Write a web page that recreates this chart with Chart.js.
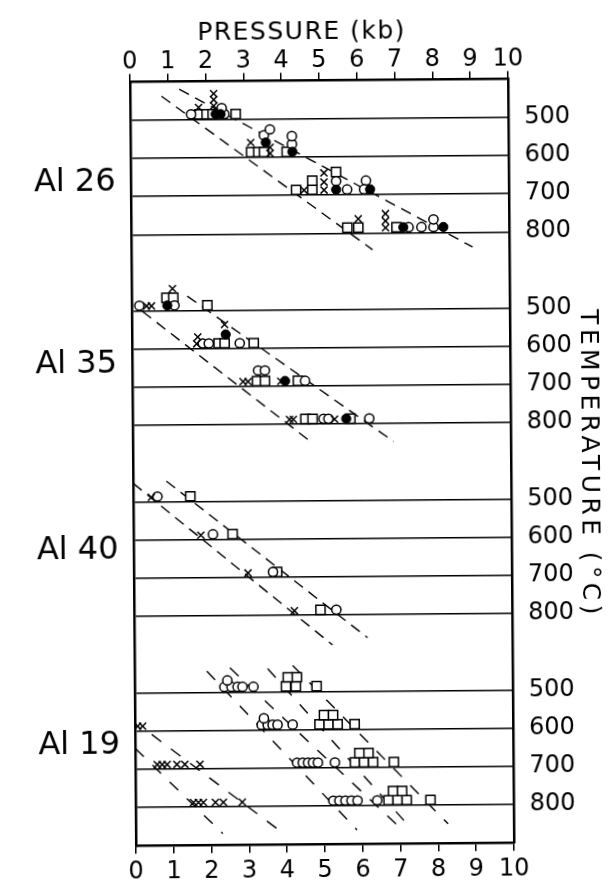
<!DOCTYPE html>
<html>
<head>
<meta charset="utf-8">
<script src="https://cdn.jsdelivr.net/npm/chart.js@4.4.0/dist/chart.umd.min.js"></script>
<style>
  html, body { margin: 0; padding: 0; background: #fff; }
  #wrap { width: 609px; height: 880px; overflow: hidden; }
  /* the scanned figure is turned a little anticlockwise */
  #chart { display: block; transform: rotate(-0.45deg); transform-origin: 322px 462px; }
</style>
</head>
<body>
<div id="wrap"><canvas id="chart" width="609" height="880"></canvas></div>
<script>
// Axes
const pressureMin = 0;
const pressureMax = 10;
const tempLevels = [500, 600, 700, 800];
const samples = ['Al 26', 'Al 35', 'Al 40', 'Al 19'];

// Runs: [pressure (kb), temperature (°C) as plotted, stacked runs sit higher]
const al26Open = [[1.61, 486], [2.49, 486], [2.42, 470], [3.53, 542], [3.69, 527], [4.27, 566], [4.27, 545],
  [5.43, 664], [5.72, 686], [6.22, 663], [6.17, 686], [7.34, 786], [7.68, 786], [8.00, 786], [8.00, 766]];
const al26Filled = [[2.26, 486], [2.39, 486], [3.58, 561], [4.28, 586], [5.43, 686], [6.33, 686], [7.20, 786], [8.26, 786]];
const al26Cross = [[1.81, 468], [2.21, 464], [2.21, 448], [2.21, 432], [3.18, 561], [3.69, 574], [3.69, 590],
  [4.58, 687], [5.11, 687], [5.11, 666], [5.11, 642], [6.01, 763], [6.73, 787], [6.73, 769], [6.73, 750]];
const al26Square = [[1.83, 486], [2.02, 486], [2.18, 486], [2.79, 486], [3.19, 586], [3.38, 586], [3.53, 586], [4.13, 586],
  [4.37, 686], [4.80, 686], [4.80, 662], [5.43, 640], [5.72, 786], [6.01, 786], [7.02, 786]];
const al26Dashed = [[0.83, 438, 6.38, 844], [1.30, 420, 9.03, 839]];

const al35Open = [[0.20, 486], [1.13, 486], [1.87, 586], [2.03, 586], [2.85, 586], [3.33, 658], [3.51, 658],
  [4.57, 686], [5.05, 786], [5.18, 786], [6.26, 786]];
const al35Filled = [[0.94, 486], [2.48, 563], [4.04, 686], [5.65, 786]];
const al35Cross = [[0.39, 487], [0.52, 487], [1.08, 442], [1.74, 569], [1.71, 587], [2.45, 537], [2.93, 687],
  [3.06, 687], [3.93, 687], [4.15, 787], [4.25, 787], [5.34, 787]];
const al35Square = [[0.92, 466], [1.10, 466], [2.00, 486], [2.29, 586], [2.45, 586], [3.22, 586], [3.30, 686],
  [3.51, 686], [4.38, 686], [4.57, 786], [4.76, 786], [5.76, 786]];
const al35Dashed = [[0.28, 501, 4.75, 849], [1.47, 462, 6.90, 847]];

const al40Open = [[0.64, 486], [2.10, 586], [3.68, 686], [5.35, 786]];
const al40Filled = [];
const al40Cross = [[0.48, 488], [1.78, 588], [3.02, 688], [4.24, 788]];
const al40Square = [[1.51, 486], [2.62, 586], [3.79, 686], [4.93, 786]];
const al40Dashed = [[0.00, 451, 5.24, 878], [0.88, 446, 6.17, 860]];

const al19Open = [[2.37, 486], [2.56, 486], [2.72, 486], [2.85, 486], [2.45, 469], [3.14, 486],
  [3.35, 586], [3.51, 586], [3.64, 586], [3.77, 586], [3.41, 569], [4.17, 586],
  [4.28, 686], [4.43, 686], [4.57, 686], [4.70, 686], [4.83, 686], [5.28, 686],
  [5.23, 786], [5.39, 786], [5.55, 786], [5.71, 786], [5.87, 786], [6.39, 786]];
const al19Filled = [];
const al19Cross = [[0.07, 587], [0.20, 587], [0.58, 688], [0.71, 688], [0.84, 688], [1.10, 688], [1.31, 688], [1.71, 688],
  [1.53, 788], [1.66, 788], [1.79, 788], [2.11, 788], [2.32, 788], [2.82, 788]];
const al19Square = [[4.00, 486], [4.26, 486], [4.05, 462], [4.29, 462], [4.81, 486],
  [4.88, 586], [5.12, 586], [5.36, 586], [5.00, 562], [5.24, 562], [5.81, 586],
  [5.81, 686], [6.05, 686], [6.29, 686], [5.93, 662], [6.17, 662], [6.84, 686],
  [6.69, 786], [6.93, 786], [7.17, 786], [6.81, 762], [7.05, 762], [7.80, 786]];
const al19Dashed = [[0.00, 645, 2.30, 870], [0.44, 609, 3.72, 857], [1.91, 444, 5.85, 863],
  [2.52, 436, 7.04, 863], [3.52, 439, 7.25, 857], [4.18, 431, 8.26, 849]];

const panelOpen = [al26Open, al35Open, al40Open, al19Open];
const panelFilled = [al26Filled, al35Filled, al40Filled, al19Filled];
const panelCross = [al26Cross, al35Cross, al40Cross, al19Cross];
const panelSquare = [al26Square, al35Square, al40Square, al19Square];
const panelDashed = [al26Dashed, al35Dashed, al40Dashed, al19Dashed];

// Each panel is shifted down by one block of 500 on the shared axis
const PANEL_STEP = 500;
const FONT = '"DejaVu Sans", sans-serif';

const toPoints = (arr, off) => arr.map(([p, t]) => ({ x: p, y: t + off }));

const datasets = [];
samples.forEach((name, k) => {
  const off = k * PANEL_STEP;
  datasets.push({
    label: name + ' x', data: toPoints(panelCross[k], off), order: 1,
    pointStyle: 'crossRot', pointRadius: 5, pointBorderWidth: 1.5, pointBorderColor: '#000'
  });
  datasets.push({
    label: name + ' filled', data: toPoints(panelFilled[k], off), order: 2,
    pointStyle: 'circle', pointRadius: 4.6, pointBorderWidth: 1, pointBorderColor: '#000', pointBackgroundColor: '#000'
  });
  datasets.push({
    label: name + ' open', data: toPoints(panelOpen[k], off), order: 3,
    pointStyle: 'circle', pointRadius: 4.6, pointBorderWidth: 1.5, pointBorderColor: '#000', pointBackgroundColor: '#fff'
  });
  datasets.push({
    label: name + ' square', data: toPoints(panelSquare[k], off), order: 4,
    pointStyle: 'rect', pointRadius: 6.5, pointBorderWidth: 1.5, pointBorderColor: '#000', pointBackgroundColor: '#fff'
  });
  panelDashed[k].forEach(([p1, t1, p2, t2], i) => {
    datasets.push({
      label: name + ' trend ' + i, order: 5,
      data: [{ x: p1, y: t1 + off }, { x: p2, y: t2 + off }],
      showLine: true, borderColor: '#000', borderWidth: 1.4,
      borderDash: k === 3 ? [12, 12] : [11, 7], pointRadius: 0, fill: false
    });
  });
});

// Temperature of a position on the shared axis, or null in the gaps
function levelOf(v) {
  const t = v - PANEL_STEP * Math.floor((v - 400) / PANEL_STEP);
  return tempLevels.includes(t) ? t : null;
}

// Where the sample names sit (temperature inside each panel)
const labelTemps = [662, 638, 627, 636];

const annotate = {
  id: 'annotate',
  afterDraw(chart) {
    const { ctx } = chart;
    const yScale = chart.scales.y;
    ctx.save();
    ctx.fillStyle = '#000';
    ctx.textAlign = 'center';
    ctx.textBaseline = 'middle';

    ctx.font = '25px ' + FONT;
    ctx.letterSpacing = '1.5px';
    ctx.fillText('PRESSURE (kb)', 305, 32);

    ctx.save();
    ctx.translate(588, 466);
    ctx.rotate(Math.PI / 2);
    ctx.letterSpacing = '4.4px';
    ctx.fillText('TEMPERATURE (°C)', 0, 0);
    ctx.restore();

    ctx.font = '32px ' + FONT;
    ctx.letterSpacing = '0px';
    samples.forEach((name, k) => {
      ctx.fillText(name, 77, yScale.getPixelForValue(k * PANEL_STEP + labelTemps[k]));
    });
    ctx.restore();
  }
};

const pressureAxis = (position, height, pad) => ({
  type: 'linear', position, min: pressureMin, max: pressureMax,
  ticks: { stepSize: 1, autoSkip: false, maxRotation: 0, color: '#000', padding: pad, font: { family: FONT, size: 24 } },
  grid: { drawOnChartArea: false, drawTicks: true, tickLength: 8, color: '#000', lineWidth: 1.5 },
  border: { color: '#000', width: 2.5 },
  afterFit: s => { s.height = height; }
});

new Chart(document.getElementById('chart'), {
  type: 'scatter',
  data: { datasets },
  plugins: [annotate],
  options: {
    responsive: false,
    animation: false,
    devicePixelRatio: 1,
    layout: { padding: 0 },
    plugins: { legend: { display: false }, tooltip: { enabled: false } },
    scales: {
      x: pressureAxis('bottom', 35.7, 4),
      x2: pressureAxis('top', 80.5, -3),
      y: {
        type: 'linear', position: 'left', reverse: true, min: 400, max: 2400,
        ticks: { display: false, stepSize: 100, autoSkip: false },
        grid: {
          drawTicks: false, lineWidth: 1.5,
          color: ctx => levelOf(ctx.tick.value) ? '#000' : 'rgba(0,0,0,0)'
        },
        border: { color: '#000', width: 2.5 },
        afterFit: s => { s.width = 133; }
      },
      y2: {
        type: 'linear', position: 'right', reverse: true, min: 400, max: 2400,
        ticks: {
          stepSize: 100, autoSkip: false, color: '#000', padding: 16,
          font: { family: FONT, size: 24 },
          callback: v => levelOf(v) ? String(levelOf(v)) : ''
        },
        grid: { display: false, drawTicks: false },
        border: { color: '#000', width: 2.5 },
        afterFit: s => { s.width = 98; }
      }
    }
  }
});
</script>
</body>
</html>
